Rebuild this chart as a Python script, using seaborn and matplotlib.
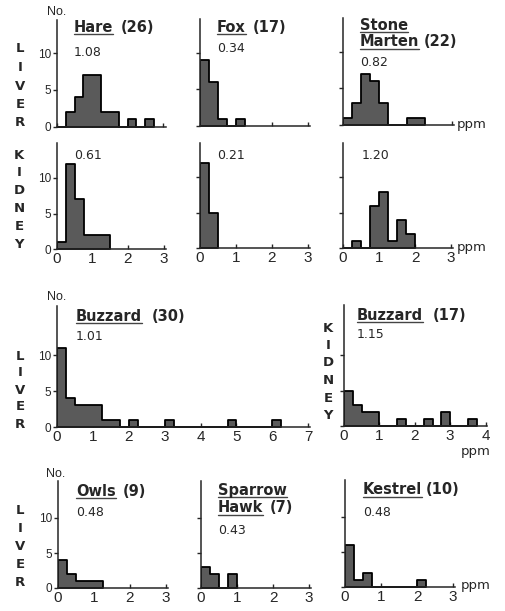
import numpy as np
import pandas as pd
import matplotlib
matplotlib.use("Agg")
import matplotlib.pyplot as plt
import seaborn as sns
from matplotlib.lines import Line2D

# ---------------- data: number of animals per 0.25-ppm class (classes start at 0 ppm) ----------------
BIN = 0.25
hare_liver = [0, 2, 4, 7, 7, 2, 2, 0, 1, 0, 1]
fox_liver = [9, 6, 1, 0, 1]
marten_liver = [1, 3, 7, 6, 3, 0, 0, 1, 1]
hare_kidney = [1, 12, 7, 2, 2, 2]
fox_kidney = [12, 5]
marten_kidney = [0, 1, 0, 6, 8, 1, 4, 2]
buzzard_liver = [11, 4, 3, 3, 3, 1, 1, 0, 1, 0, 0, 0, 1, 0, 0, 0, 0, 0, 0, 1, 0, 0, 0, 0, 1]
buzzard_kidney = [5, 3, 2, 2, 0, 0, 1, 0, 0, 1, 0, 2, 0, 0, 1]
owls_liver = [4, 2, 1, 1, 1]
sparrowhawk_liver = [3, 2, 0, 2]
kestrel_liver = [6, 1, 2, 0, 0, 0, 0, 0, 1]

# titles / sample sizes / means
sizes = ["(26)", "(17)", "(22)", "(30)", "(17)", "(9)", "(7)", "(10)"]
means_liver = {"Hare": "1.08", "Fox": "0.34", "Marten": "0.82", "Buzzard": "1.01",
               "Owls": "0.48", "Sparrow": "0.43", "Kestrel": "0.48"}
means_kidney = {"Hare": "0.61", "Fox": "0.21", "Marten": "1.20", "Buzzard": "1.15"}
y_ticks = [0, 5, 10]

# ---------------- style ----------------
sns.set_style("ticks")
plt.rcParams["font.family"] = ["Liberation Sans", "DejaVu Sans"]
plt.rcParams["axes.linewidth"] = 1.1

W, H = 505, 611
fig = plt.figure(figsize=(W / 100, H / 100), dpi=100)


def fx(x):
    return x / W


def fy(y):
    return 1 - y / H


FACE = "#5a5a5a"


def panel(counts, x0, ppu_x, xmax, ybase, ppu_y, ymax, ylabels, xlabels):
    left = fx(x0)
    bottom = fy(ybase)
    ax = fig.add_axes([left, bottom, xmax * ppu_x / W, ymax * ppu_y / H])
    counts = np.asarray(counts, dtype=float)
    nb = len(counts)
    centers = np.arange(nb) * BIN + BIN / 2
    df = pd.DataFrame({"ppm": centers, "n": counts})
    sns.histplot(data=df, x="ppm", weights="n", binwidth=BIN, binrange=(0, nb * BIN),
                 element="step", fill=True,
                 color=FACE, edgecolor="black", linewidth=1.3, alpha=1, ax=ax)
    ax.set_xlim(0, xmax)
    ax.set_ylim(0, ymax)
    ax.set_xlabel("")
    ax.set_ylabel("")
    ax.set_xticks(range(0, int(xmax) + 1))
    ax.set_yticks(y_ticks)
    ax.spines["top"].set_visible(False)
    ax.spines["right"].set_visible(False)
    ax.tick_params(axis="y", direction="out", length=3, width=1, pad=1,
                   labelsize=8.5, labelleft=ylabels)
    ax.tick_params(axis="x", direction="in", length=3, width=1, pad=2,
                   labelsize=11, labelbottom=xlabels)
    ax.patch.set_alpha(0)
    return ax


# row 1: liver
panel(hare_liver, 57, 35.3, 3.08, 126.5, 7.3, 14.6, True, False)
panel(fox_liver, 200, 36.0, 3.05, 126.0, 7.3, 14.6, False, False)
panel(marten_liver, 343, 36.3, 3.05, 125.0, 7.3, 14.6, False, False)
# row 2: kidney
panel(hare_kidney, 57, 35.5, 3.08, 249.0, 7.1, 14.9, True, True)
panel(fox_kidney, 200, 36.0, 3.05, 248.5, 7.1, 14.9, False, True)
panel(marten_kidney, 343, 36.0, 3.05, 248.5, 7.1, 14.9, False, True)
# row 3: buzzard
panel(buzzard_liver, 57, 35.9, 7.05, 427.0, 7.2, 16.8, True, True)
panel(buzzard_kidney, 344, 35.4, 4.05, 426.0, 7.1, 17.0, False, True)
# row 4: birds of prey liver
panel(owls_liver, 58, 36.0, 3.05, 588.0, 7.0, 15.3, True, True)
panel(sparrowhawk_liver, 201, 36.0, 3.05, 588.0, 7.0, 15.3, False, True)
panel(kestrel_liver, 345, 36.0, 3.05, 587.0, 7.0, 15.3, False, True)

# ---------------- texts ----------------
DJ = ["DejaVu Sans"]


def vword(word, x, y0, step, size=9.5):
    for i, ch in enumerate(word):
        fig.text(fx(x), fy(y0 + i * step), ch, ha="center", va="center",
                 fontsize=size, fontweight="bold", family=DJ)


vword("LIVER", 20, 49, 18.5)
vword("KIDNEY", 19, 155, 18)
vword("LIVER", 20, 356, 17)
vword("KIDNEY", 328, 328, 17.5)
vword("LIVER", 20, 511, 18)

for (x, y) in [(57, 12), (57, 297), (56, 474)]:
    fig.text(fx(x), fy(y), "No.", ha="center", va="center", fontsize=9)

for (x, y) in [(457, 124), (457, 247), (461, 451), (461, 585)]:
    fig.text(fx(x), fy(y), "ppm", ha="left", va="center", fontsize=9.5, family=DJ)

TSIZE = 10.5
underlined = []


def title(name_lines, size_txt, x, y, x_size, line_h=17):
    for i, nm in enumerate(name_lines):
        t = fig.text(fx(x), fy(y + i * line_h), nm, ha="left", va="center",
                     fontsize=TSIZE, fontweight="bold", family=DJ)
        underlined.append(t)
    fig.text(fx(x_size), fy(y + (len(name_lines) - 1) * line_h), size_txt,
             ha="left", va="center", fontsize=TSIZE, fontweight="bold", family=DJ)


title(["Hare"], sizes[0], 74, 27, 121)
title(["Fox"], sizes[1], 217, 27, 253)
title(["Stone", "Marten"], sizes[2], 360, 25, 424)
title(["Buzzard"], sizes[3], 76, 316, 152)
title(["Buzzard"], sizes[4], 357, 315, 433)
title(["Owls"], sizes[5], 76, 491, 123)
title(["Sparrow", "Hawk"], sizes[6], 218, 490, 270, line_h=18)
title(["Kestrel"], sizes[7], 363, 490, 426)

MSIZE = 9
for (x, y, key) in [(74, 52, "Hare"), (217, 49, "Fox"), (360, 62, "Marten"),
                    (76, 336, "Buzzard"), (76, 513, "Owls"), (218, 530, "Sparrow"),
                    (363, 512, "Kestrel")]:
    fig.text(fx(x), fy(y), means_liver[key], ha="left", va="center", fontsize=MSIZE, family=DJ)
for (x, y, key) in [(74, 155, "Hare"), (217, 155, "Fox"), (362, 155, "Marten"),
                    (357, 334, "Buzzard")]:
    fig.text(fx(x), fy(y), means_kidney[key], ha="left", va="center", fontsize=MSIZE, family=DJ)

# underline the species names
fig.canvas.draw()
r = fig.canvas.get_renderer()
inv = fig.transFigure.inverted()
for t in underlined:
    bb = t.get_window_extent(r).transformed(inv)
    yy = bb.y0 + 0.5 / H
    fig.add_artist(Line2D([bb.x0, bb.x1], [yy, yy], transform=fig.transFigure,
                          color="#444444", linewidth=1.0))

fig.savefig("out.png", dpi=100)
